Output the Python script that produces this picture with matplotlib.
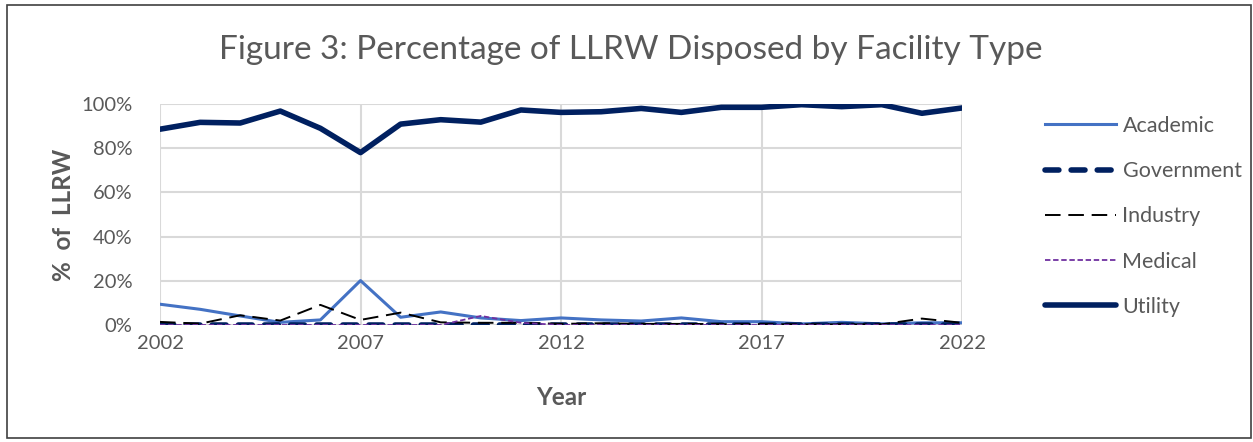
import matplotlib
matplotlib.use("Agg")
import matplotlib.pyplot as plt
from matplotlib.patches import Rectangle
import numpy as np

years = list(range(2002, 2023))

# percent of LLRW disposed
academic = [9.4, 7.1, 4.1, 1.2, 2.3, 20.1, 3.5, 5.9, 3.2, 2.0, 3.2,
            2.3, 1.8, 3.2, 1.5, 1.5, 0.5, 1.2, 0.5, 1.0, 1.0]
government = [0.0] * 21
industry = [1.4, 0.6, 4.4, 2.0, 9.1, 2.3, 5.6, 1.2, 1.0, 1.0, 0.5,
            0.8, 0.5, 0.5, 0.4, 0.4, 0.3, 0.3, 0.3, 2.9, 1.0]
medical = [0.0, 0.0, 0.0, 0.0, 0.0, 0.0, 0.0, 0.0, 4.1, 1.0, 0.0,
           0.0, 0.0, 0.0, 0.0, 0.0, 0.0, 0.0, 0.0, 0.0, 0.0]
utility = [88.6, 91.7, 91.4, 96.8, 89.0, 78.0, 90.9, 92.9, 91.8, 97.3, 96.2,
           96.5, 98.0, 96.2, 98.5, 98.5, 99.7, 98.8, 99.7, 95.8, 98.2]

gray = "#595959"
plt.rcParams["font.family"] = ["Lato", "DejaVu Sans"]

fig = plt.figure(figsize=(12.53, 4.42), dpi=100)
ax = fig.add_axes([160 / 1253, 1 - 325 / 442, (962 - 160) / 1253, (325 - 104) / 442])

ax.plot(years, academic, color="#4472C4", lw=2.2, label="Academic")
ax.plot(years, government, color="#002060", lw=4, dashes=(2.5, 2.2),
        dash_capstyle="round", label="Government")
ax.plot(years, industry, color="black", lw=1.4, dashes=(8, 4), label="Industry")
ax.plot(years, medical, color="#7030A0", lw=1.3, dashes=(3, 1.5), label="Medical")
ax.plot(years, utility, color="#002060", lw=4, solid_capstyle="round", label="Utility")

ax.set_xlim(2002, 2022)
ax.set_ylim(0, 100)
ax.set_xticks([2002, 2007, 2012, 2017, 2022])
ax.set_yticks(range(0, 101, 20))
ax.set_yticklabels([f"{v}%" for v in range(0, 101, 20)])
ax.grid(True, color="#d9d9d9", lw=1.5)
ax.set_axisbelow(True)
for s in ax.spines.values():
    s.set_visible(False)
ax.tick_params(length=0, labelsize=14.5, colors=gray, pad=7)
ax.tick_params(axis="y", pad=20)

ax.set_xlabel("Year", fontsize=17.5, fontweight="bold", color=gray, labelpad=25)
ax.set_ylabel("%  of  LLRW", fontsize=17.5, fontweight="bold", color=gray, labelpad=4)

fig.text(0.503, 0.887, "Figure 3: Percentage of LLRW Disposed by Facility Type",
         ha="center", va="center", fontsize=24, color=gray)

leg = fig.legend(loc="upper left", bbox_to_anchor=(1045 / 1253, 1 - 116 / 442),
                 frameon=False, fontsize=15.5, handlelength=3.3, handletextpad=0.3,
                 labelspacing=1.17, borderpad=0, borderaxespad=0)
for t in leg.get_texts():
    t.set_color(gray)

fig.patches.append(Rectangle((7 / 1253, 4 / 442), 1 - 9 / 1253, 1 - 9 / 442,
                             transform=fig.transFigure, fill=False,
                             edgecolor="#404040", lw=1.2))

fig.savefig("out.png", dpi=100)
